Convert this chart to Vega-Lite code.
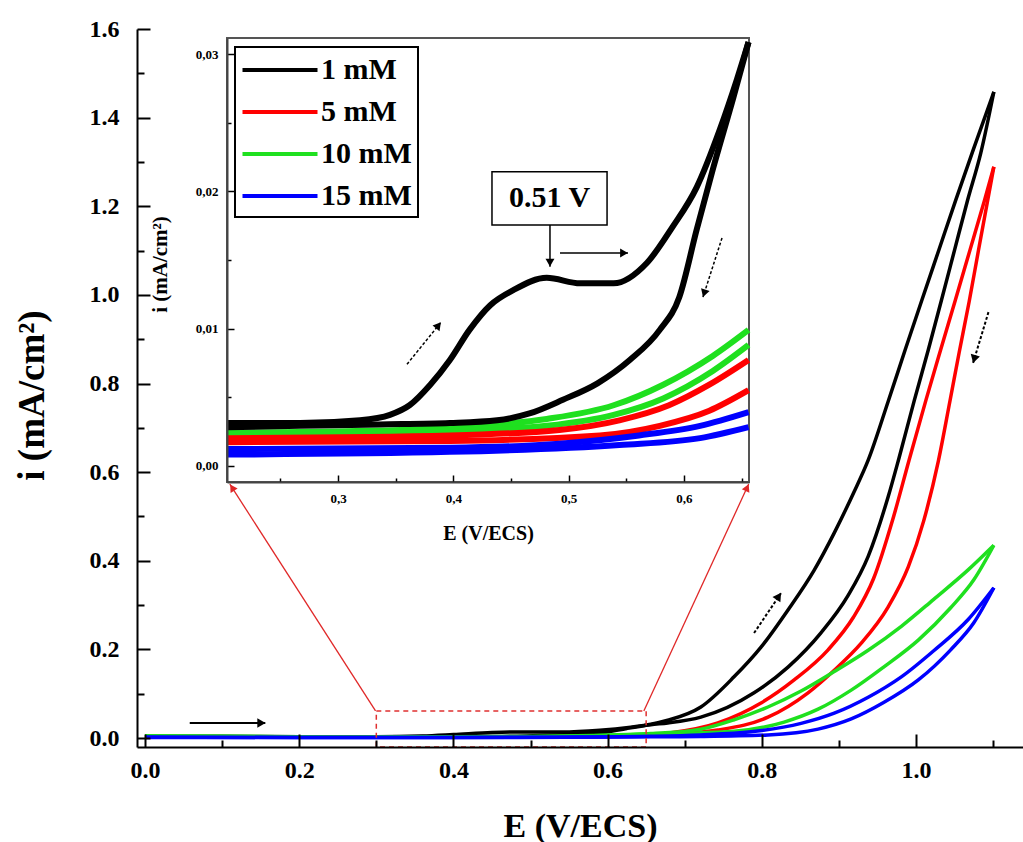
{
  "$schema": "https://vega.github.io/schema/vega-lite/v6.json",
  "width": 886,
  "height": 718,
  "autosize": {"type": "none"},
  "padding": {"left": 137, "top": 29, "right": 0, "bottom": 95},
  "background": "white",
  "config": {
    "view": {"stroke": null},
    "font": "Liberation Serif",
    "style": {
      "guide-label": {"font": "Liberation Serif", "fontWeight": "bold"},
      "guide-title": {"font": "Liberation Serif", "fontWeight": "bold"}
    },
    "axis": {"grid": false, "labelFont": "Liberation Serif", "titleFont": "Liberation Serif", "labelFontWeight": "bold", "titleFontWeight": "bold", "labelColor": "black", "titleColor": "black", "tickColor": "black", "domainColor": "black"},
    "legend": {"strokeWidth": 2, "labelFont": "Liberation Serif", "labelFontWeight": "bold"}
  },
  "datasets": {
    "main": [
      {"E": 0, "i": 0.004, "c": "1 mM", "b": "f"},
      {"E": 0.1, "i": 0.004, "c": "1 mM", "b": "f"},
      {"E": 0.2, "i": 0.003, "c": "1 mM", "b": "f"},
      {"E": 0.3, "i": 0.003, "c": "1 mM", "b": "f"},
      {"E": 0.36, "i": 0.0044, "c": "1 mM", "b": "f"},
      {"E": 0.4, "i": 0.0077, "c": "1 mM", "b": "f"},
      {"E": 0.45, "i": 0.0125, "c": "1 mM", "b": "f"},
      {"E": 0.48, "i": 0.0137, "c": "1 mM", "b": "f"},
      {"E": 0.54, "i": 0.0133, "c": "1 mM", "b": "f"},
      {"E": 0.59, "i": 0.0174, "c": "1 mM", "b": "f"},
      {"E": 0.63, "i": 0.0245, "c": "1 mM", "b": "f"},
      {"E": 0.656, "i": 0.031, "c": "1 mM", "b": "f"},
      {"E": 0.678, "i": 0.04, "c": "1 mM", "b": "f"},
      {"E": 0.721, "i": 0.07, "c": "1 mM", "b": "f"},
      {"E": 0.764, "i": 0.138, "c": "1 mM", "b": "f"},
      {"E": 0.799, "i": 0.205, "c": "1 mM", "b": "f"},
      {"E": 0.834, "i": 0.289, "c": "1 mM", "b": "f"},
      {"E": 0.868, "i": 0.379, "c": "1 mM", "b": "f"},
      {"E": 0.894, "i": 0.463, "c": "1 mM", "b": "f"},
      {"E": 0.919, "i": 0.553, "c": "1 mM", "b": "f"},
      {"E": 0.938, "i": 0.627, "c": "1 mM", "b": "f"},
      {"E": 0.964, "i": 0.76, "c": "1 mM", "b": "f"},
      {"E": 0.986, "i": 0.876, "c": "1 mM", "b": "f"},
      {"E": 1.008, "i": 0.99, "c": "1 mM", "b": "f"},
      {"E": 1.03, "i": 1.103, "c": "1 mM", "b": "f"},
      {"E": 1.052, "i": 1.216, "c": "1 mM", "b": "f"},
      {"E": 1.074, "i": 1.326, "c": "1 mM", "b": "f"},
      {"E": 1.101, "i": 1.458, "c": "1 mM", "b": "f"},
      {"E": 1.101, "i": 1.458, "c": "1 mM", "b": "r"},
      {"E": 1.084, "i": 1.32, "c": "1 mM", "b": "r"},
      {"E": 1.067, "i": 1.214, "c": "1 mM", "b": "r"},
      {"E": 1.05, "i": 1.101, "c": "1 mM", "b": "r"},
      {"E": 1.033, "i": 0.988, "c": "1 mM", "b": "r"},
      {"E": 1.016, "i": 0.876, "c": "1 mM", "b": "r"},
      {"E": 0.998, "i": 0.763, "c": "1 mM", "b": "r"},
      {"E": 0.978, "i": 0.632, "c": "1 mM", "b": "r"},
      {"E": 0.964, "i": 0.545, "c": "1 mM", "b": "r"},
      {"E": 0.938, "i": 0.41, "c": "1 mM", "b": "r"},
      {"E": 0.912, "i": 0.322, "c": "1 mM", "b": "r"},
      {"E": 0.877, "i": 0.238, "c": "1 mM", "b": "r"},
      {"E": 0.834, "i": 0.16, "c": "1 mM", "b": "r"},
      {"E": 0.79, "i": 0.102, "c": "1 mM", "b": "r"},
      {"E": 0.721, "i": 0.047, "c": "1 mM", "b": "r"},
      {"E": 0.678, "i": 0.034, "c": "1 mM", "b": "r"},
      {"E": 0.656, "i": 0.03, "c": "1 mM", "b": "r"},
      {"E": 0.625, "i": 0.0216, "c": "1 mM", "b": "r"},
      {"E": 0.596, "i": 0.0123, "c": "1 mM", "b": "r"},
      {"E": 0.553, "i": 0.0077, "c": "1 mM", "b": "r"},
      {"E": 0.495, "i": 0.0048, "c": "1 mM", "b": "r"},
      {"E": 0.438, "i": 0.0033, "c": "1 mM", "b": "r"},
      {"E": 0.3, "i": 0.0029, "c": "1 mM", "b": "r"},
      {"E": 0.1, "i": 0.003, "c": "1 mM", "b": "r"},
      {"E": 0, "i": 0.003, "c": "1 mM", "b": "r"},

      {"E": 0, "i": 0.003, "c": "5 mM", "b": "f"},
      {"E": 0.2, "i": 0.002, "c": "5 mM", "b": "f"},
      {"E": 0.397, "i": 0.0022, "c": "5 mM", "b": "f"},
      {"E": 0.492, "i": 0.0026, "c": "5 mM", "b": "f"},
      {"E": 0.544, "i": 0.0033, "c": "5 mM", "b": "f"},
      {"E": 0.587, "i": 0.0044, "c": "5 mM", "b": "f"},
      {"E": 0.622, "i": 0.0059, "c": "5 mM", "b": "f"},
      {"E": 0.656, "i": 0.0077, "c": "5 mM", "b": "f"},
      {"E": 0.678, "i": 0.011, "c": "5 mM", "b": "f"},
      {"E": 0.743, "i": 0.034, "c": "5 mM", "b": "f"},
      {"E": 0.799, "i": 0.079, "c": "5 mM", "b": "f"},
      {"E": 0.842, "i": 0.131, "c": "5 mM", "b": "f"},
      {"E": 0.886, "i": 0.199, "c": "5 mM", "b": "f"},
      {"E": 0.919, "i": 0.273, "c": "5 mM", "b": "f"},
      {"E": 0.945, "i": 0.36, "c": "5 mM", "b": "f"},
      {"E": 0.971, "i": 0.5, "c": "5 mM", "b": "f"},
      {"E": 0.991, "i": 0.627, "c": "5 mM", "b": "f"},
      {"E": 1.013, "i": 0.763, "c": "5 mM", "b": "f"},
      {"E": 1.032, "i": 0.876, "c": "5 mM", "b": "f"},
      {"E": 1.051, "i": 0.988, "c": "5 mM", "b": "f"},
      {"E": 1.07, "i": 1.101, "c": "5 mM", "b": "f"},
      {"E": 1.089, "i": 1.214, "c": "5 mM", "b": "f"},
      {"E": 1.101, "i": 1.289, "c": "5 mM", "b": "f"},
      {"E": 1.101, "i": 1.289, "c": "5 mM", "b": "r"},
      {"E": 1.081, "i": 1.1, "c": "5 mM", "b": "r"},
      {"E": 1.069, "i": 0.985, "c": "5 mM", "b": "r"},
      {"E": 1.056, "i": 0.87, "c": "5 mM", "b": "r"},
      {"E": 1.044, "i": 0.76, "c": "5 mM", "b": "r"},
      {"E": 1.029, "i": 0.625, "c": "5 mM", "b": "r"},
      {"E": 1.01, "i": 0.49, "c": "5 mM", "b": "r"},
      {"E": 0.99, "i": 0.386, "c": "5 mM", "b": "r"},
      {"E": 0.964, "i": 0.296, "c": "5 mM", "b": "r"},
      {"E": 0.929, "i": 0.214, "c": "5 mM", "b": "r"},
      {"E": 0.894, "i": 0.153, "c": "5 mM", "b": "r"},
      {"E": 0.86, "i": 0.102, "c": "5 mM", "b": "r"},
      {"E": 0.808, "i": 0.047, "c": "5 mM", "b": "r"},
      {"E": 0.743, "i": 0.018, "c": "5 mM", "b": "r"},
      {"E": 0.7, "i": 0.01, "c": "5 mM", "b": "r"},
      {"E": 0.656, "i": 0.0055, "c": "5 mM", "b": "r"},
      {"E": 0.579, "i": 0.0029, "c": "5 mM", "b": "r"},
      {"E": 0.397, "i": 0.0018, "c": "5 mM", "b": "r"},
      {"E": 0, "i": 0.002, "c": "5 mM", "b": "r"},

      {"E": 0, "i": 0.005, "c": "10 mM", "b": "f"},
      {"E": 0.2, "i": 0.0025, "c": "10 mM", "b": "f"},
      {"E": 0.354, "i": 0.0026, "c": "10 mM", "b": "f"},
      {"E": 0.481, "i": 0.0034, "c": "10 mM", "b": "f"},
      {"E": 0.539, "i": 0.0044, "c": "10 mM", "b": "f"},
      {"E": 0.582, "i": 0.0059, "c": "10 mM", "b": "f"},
      {"E": 0.625, "i": 0.008, "c": "10 mM", "b": "f"},
      {"E": 0.656, "i": 0.0099, "c": "10 mM", "b": "f"},
      {"E": 0.721, "i": 0.02, "c": "10 mM", "b": "f"},
      {"E": 0.764, "i": 0.041, "c": "10 mM", "b": "f"},
      {"E": 0.808, "i": 0.07, "c": "10 mM", "b": "f"},
      {"E": 0.851, "i": 0.106, "c": "10 mM", "b": "f"},
      {"E": 0.894, "i": 0.15, "c": "10 mM", "b": "f"},
      {"E": 0.938, "i": 0.198, "c": "10 mM", "b": "f"},
      {"E": 0.981, "i": 0.252, "c": "10 mM", "b": "f"},
      {"E": 1.023, "i": 0.313, "c": "10 mM", "b": "f"},
      {"E": 1.068, "i": 0.38, "c": "10 mM", "b": "f"},
      {"E": 1.101, "i": 0.435, "c": "10 mM", "b": "f"},
      {"E": 1.101, "i": 0.435, "c": "10 mM", "b": "r"},
      {"E": 1.075, "i": 0.357, "c": "10 mM", "b": "r"},
      {"E": 1.045, "i": 0.294, "c": "10 mM", "b": "r"},
      {"E": 1.003, "i": 0.221, "c": "10 mM", "b": "r"},
      {"E": 0.958, "i": 0.16, "c": "10 mM", "b": "r"},
      {"E": 0.916, "i": 0.108, "c": "10 mM", "b": "r"},
      {"E": 0.873, "i": 0.065, "c": "10 mM", "b": "r"},
      {"E": 0.829, "i": 0.036, "c": "10 mM", "b": "r"},
      {"E": 0.764, "i": 0.015, "c": "10 mM", "b": "r"},
      {"E": 0.7, "i": 0.0105, "c": "10 mM", "b": "r"},
      {"E": 0.656, "i": 0.0088, "c": "10 mM", "b": "r"},
      {"E": 0.582, "i": 0.0049, "c": "10 mM", "b": "r"},
      {"E": 0.481, "i": 0.0029, "c": "10 mM", "b": "r"},
      {"E": 0.354, "i": 0.0023, "c": "10 mM", "b": "r"},
      {"E": 0, "i": 0.004, "c": "10 mM", "b": "r"},

      {"E": 0, "i": 0.002, "c": "15 mM", "b": "f"},
      {"E": 0.2, "i": 0.0012, "c": "15 mM", "b": "f"},
      {"E": 0.397, "i": 0.0013, "c": "15 mM", "b": "f"},
      {"E": 0.492, "i": 0.0016, "c": "15 mM", "b": "f"},
      {"E": 0.561, "i": 0.0022, "c": "15 mM", "b": "f"},
      {"E": 0.656, "i": 0.0039, "c": "15 mM", "b": "f"},
      {"E": 0.72, "i": 0.007, "c": "15 mM", "b": "f"},
      {"E": 0.786, "i": 0.014, "c": "15 mM", "b": "f"},
      {"E": 0.851, "i": 0.033, "c": "15 mM", "b": "f"},
      {"E": 0.894, "i": 0.056, "c": "15 mM", "b": "f"},
      {"E": 0.938, "i": 0.092, "c": "15 mM", "b": "f"},
      {"E": 0.981, "i": 0.138, "c": "15 mM", "b": "f"},
      {"E": 1.023, "i": 0.197, "c": "15 mM", "b": "f"},
      {"E": 1.068, "i": 0.268, "c": "15 mM", "b": "f"},
      {"E": 1.101, "i": 0.339, "c": "15 mM", "b": "f"},
      {"E": 1.101, "i": 0.339, "c": "15 mM", "b": "r"},
      {"E": 1.075, "i": 0.26, "c": "15 mM", "b": "r"},
      {"E": 1.045, "i": 0.199, "c": "15 mM", "b": "r"},
      {"E": 1.003, "i": 0.131, "c": "15 mM", "b": "r"},
      {"E": 0.958, "i": 0.08, "c": "15 mM", "b": "r"},
      {"E": 0.916, "i": 0.043, "c": "15 mM", "b": "r"},
      {"E": 0.873, "i": 0.02, "c": "15 mM", "b": "r"},
      {"E": 0.808, "i": 0.007, "c": "15 mM", "b": "r"},
      {"E": 0.72, "i": 0.0035, "c": "15 mM", "b": "r"},
      {"E": 0.656, "i": 0.0028, "c": "15 mM", "b": "r"},
      {"E": 0.544, "i": 0.0015, "c": "15 mM", "b": "r"},
      {"E": 0.397, "i": 0.001, "c": "15 mM", "b": "r"},
      {"E": 0, "i": 0.001, "c": "15 mM", "b": "r"}
    ],
    "inset": [
      {"E": 0.2037, "i": 0.0021, "c": "10 mM", "b": "r"},
      {"E": 0.354, "i": 0.0023, "c": "10 mM", "b": "r"},
      {"E": 0.423, "i": 0.0026, "c": "10 mM", "b": "r"},
      {"E": 0.481, "i": 0.0029, "c": "10 mM", "b": "r"},
      {"E": 0.539, "i": 0.0037, "c": "10 mM", "b": "r"},
      {"E": 0.582, "i": 0.0049, "c": "10 mM", "b": "r"},
      {"E": 0.625, "i": 0.0069, "c": "10 mM", "b": "r"},
      {"E": 0.656, "i": 0.0088, "c": "10 mM", "b": "r"},
      {"E": 0.2037, "i": 0.0024, "c": "10 mM", "b": "f"},
      {"E": 0.354, "i": 0.0026, "c": "10 mM", "b": "f"},
      {"E": 0.423, "i": 0.0029, "c": "10 mM", "b": "f"},
      {"E": 0.481, "i": 0.0034, "c": "10 mM", "b": "f"},
      {"E": 0.539, "i": 0.0044, "c": "10 mM", "b": "f"},
      {"E": 0.582, "i": 0.0059, "c": "10 mM", "b": "f"},
      {"E": 0.625, "i": 0.008, "c": "10 mM", "b": "f"},
      {"E": 0.656, "i": 0.0099, "c": "10 mM", "b": "f"},

      {"E": 0.2037, "i": 0.002, "c": "5 mM", "b": "f"},
      {"E": 0.397, "i": 0.0022, "c": "5 mM", "b": "f"},
      {"E": 0.492, "i": 0.0026, "c": "5 mM", "b": "f"},
      {"E": 0.544, "i": 0.0033, "c": "5 mM", "b": "f"},
      {"E": 0.587, "i": 0.0044, "c": "5 mM", "b": "f"},
      {"E": 0.622, "i": 0.0059, "c": "5 mM", "b": "f"},
      {"E": 0.656, "i": 0.0077, "c": "5 mM", "b": "f"},
      {"E": 0.2037, "i": 0.0017, "c": "5 mM", "b": "r"},
      {"E": 0.397, "i": 0.0018, "c": "5 mM", "b": "r"},
      {"E": 0.527, "i": 0.0022, "c": "5 mM", "b": "r"},
      {"E": 0.579, "i": 0.0029, "c": "5 mM", "b": "r"},
      {"E": 0.622, "i": 0.004, "c": "5 mM", "b": "r"},
      {"E": 0.656, "i": 0.0055, "c": "5 mM", "b": "r"},

      {"E": 0.2037, "i": 0.0012, "c": "15 mM", "b": "f"},
      {"E": 0.397, "i": 0.0013, "c": "15 mM", "b": "f"},
      {"E": 0.492, "i": 0.0016, "c": "15 mM", "b": "f"},
      {"E": 0.561, "i": 0.0022, "c": "15 mM", "b": "f"},
      {"E": 0.614, "i": 0.0029, "c": "15 mM", "b": "f"},
      {"E": 0.656, "i": 0.0039, "c": "15 mM", "b": "f"},
      {"E": 0.2037, "i": 0.0008, "c": "15 mM", "b": "r"},
      {"E": 0.397, "i": 0.001, "c": "15 mM", "b": "r"},
      {"E": 0.544, "i": 0.0015, "c": "15 mM", "b": "r"},
      {"E": 0.614, "i": 0.002, "c": "15 mM", "b": "r"},
      {"E": 0.656, "i": 0.0028, "c": "15 mM", "b": "r"},

      {"E": 0.2037, "i": 0.0031, "c": "1 mM", "b": "f"},
      {"E": 0.267, "i": 0.0031, "c": "1 mM", "b": "f"},
      {"E": 0.319, "i": 0.0033, "c": "1 mM", "b": "f"},
      {"E": 0.345, "i": 0.0037, "c": "1 mM", "b": "f"},
      {"E": 0.362, "i": 0.0044, "c": "1 mM", "b": "f"},
      {"E": 0.38, "i": 0.0059, "c": "1 mM", "b": "f"},
      {"E": 0.397, "i": 0.0077, "c": "1 mM", "b": "f"},
      {"E": 0.414, "i": 0.0099, "c": "1 mM", "b": "f"},
      {"E": 0.432, "i": 0.0117, "c": "1 mM", "b": "f"},
      {"E": 0.452, "i": 0.0128, "c": "1 mM", "b": "f"},
      {"E": 0.481, "i": 0.0137, "c": "1 mM", "b": "f"},
      {"E": 0.51, "i": 0.0133, "c": "1 mM", "b": "f"},
      {"E": 0.539, "i": 0.0133, "c": "1 mM", "b": "f"},
      {"E": 0.568, "i": 0.0148, "c": "1 mM", "b": "f"},
      {"E": 0.59, "i": 0.0174, "c": "1 mM", "b": "f"},
      {"E": 0.611, "i": 0.0203, "c": "1 mM", "b": "f"},
      {"E": 0.631, "i": 0.0245, "c": "1 mM", "b": "f"},
      {"E": 0.646, "i": 0.0282, "c": "1 mM", "b": "f"},
      {"E": 0.656, "i": 0.0309, "c": "1 mM", "b": "f"},
      {"E": 0.656, "i": 0.0309, "c": "1 mM", "b": "r"},
      {"E": 0.643, "i": 0.0269, "c": "1 mM", "b": "r"},
      {"E": 0.625, "i": 0.0216, "c": "1 mM", "b": "r"},
      {"E": 0.611, "i": 0.0172, "c": "1 mM", "b": "r"},
      {"E": 0.596, "i": 0.0123, "c": "1 mM", "b": "r"},
      {"E": 0.579, "i": 0.0099, "c": "1 mM", "b": "r"},
      {"E": 0.553, "i": 0.0077, "c": "1 mM", "b": "r"},
      {"E": 0.525, "i": 0.006, "c": "1 mM", "b": "r"},
      {"E": 0.495, "i": 0.0048, "c": "1 mM", "b": "r"},
      {"E": 0.466, "i": 0.0038, "c": "1 mM", "b": "r"},
      {"E": 0.438, "i": 0.0033, "c": "1 mM", "b": "r"},
      {"E": 0.397, "i": 0.0031, "c": "1 mM", "b": "r"},
      {"E": 0.336, "i": 0.003, "c": "1 mM", "b": "r"},
      {"E": 0.267, "i": 0.0029, "c": "1 mM", "b": "r"},
      {"E": 0.2037, "i": 0.0028, "c": "1 mM", "b": "r"}
    ],
    "topEdge": [{"i": 1.6}],
    "zoomBox": [{"E": 0.3, "E2": 0.65, "i": -0.0203, "i2": 0.061}],
    "links": [
      {"E": 0.299, "i": 0.061, "E2": 0.11, "i2": 0.573},
      {"E": 0.647, "i": 0.061, "E2": 0.783, "i2": 0.573}
    ],
    "linkHeads": [
      {"E": 0.113, "i": 0.565, "dir": 327},
      {"E": 0.781, "i": 0.565, "dir": 25}
    ],
    "mainArrows": [
      {"E": 0.058, "i": 0.034, "E2": 0.156, "i2": 0.034, "k": "solid"},
      {"E": 0.79, "i": 0.237, "E2": 0.825, "i2": 0.327, "k": "dashed"},
      {"E": 1.094, "i": 0.961, "E2": 1.074, "i2": 0.846, "k": "dashed"}
    ],
    "mainHeads": [
      {"E": 0.151, "i": 0.034, "dir": 90},
      {"E": 0.822, "i": 0.32, "dir": 34},
      {"E": 1.0755, "i": 0.855, "dir": 196}
    ],
    "insetFrame": [{"E": 0.2037, "E2": 0.6564, "i": -0.0012, "i2": 0.0312}],
    "insetArrows": [
      {"E": 0.3598, "i": 0.00739, "E2": 0.3893, "i2": 0.01046, "k": "dashed"},
      {"E": 0.4925, "i": 0.01551, "E2": 0.5515, "i2": 0.01551, "k": "solid"},
      {"E": 0.633, "i": 0.01661, "E2": 0.6165, "i2": 0.01229, "k": "dashed"},
      {"E": 0.4838, "i": 0.01756, "E2": 0.4838, "i2": 0.0145, "k": "solid"}
    ],
    "insetHeads": [
      {"E": 0.3871, "i": 0.01023, "dir": 39},
      {"E": 0.548, "i": 0.01551, "dir": 90},
      {"E": 0.6175, "i": 0.01257, "dir": 198},
      {"E": 0.4838, "i": 0.0148, "dir": 180}
    ],
    "labelBox": [{"E": 0.4335, "E2": 0.5333, "i": 0.01756, "i2": 0.02144}],
    "labelText": [{"E": 0.4834, "i": 0.0195, "t": "0.51 V"}]
  },
  "layer": [
    {
      "encoding": {
        "x": {
          "field": "E", "type": "quantitative",
          "scale": {"domain": [-0.0104, 1.1388], "nice": false, "zero": false},
          "axis": {
            "orient": "bottom",
            "values": [0, 0.1, 0.2, 0.3, 0.4, 0.5, 0.6, 0.7, 0.8, 0.9, 1.0, 1.1],
            "tickSize": {"condition": {"test": "round(datum.value*10)%2==0", "value": -13}, "value": -7},
            "tickWidth": 2,
            "domainWidth": 2,
            "labelExpr": "round(datum.value*10)%2==0 ? format(datum.value,'.1f') : ''",
            "labelFont": "Liberation Serif",
            "labelFontWeight": "bold",
            "labelFontSize": 24,
            "labelPadding": 24,
            "title": "E (V/ECS)",
            "titleFont": "Liberation Serif",
            "titleFontWeight": "bold",
            "titleFontSize": 34,
            "titleY": 89,
            "titleBaseline": "alphabetic",
            "zindex": 1
          }
        },
        "y": {
          "field": "i", "type": "quantitative",
          "scale": {"domain": [-0.0203, 1.6], "nice": false, "zero": false},
          "axis": {
            "orient": "left",
            "values": [0, 0.1, 0.2, 0.3, 0.4, 0.5, 0.6, 0.7, 0.8, 0.9, 1.0, 1.1, 1.2, 1.3, 1.4, 1.5, 1.6],
            "tickSize": {"condition": {"test": "round(datum.value*10)%2==0", "value": -13}, "value": -7},
            "tickWidth": 2,
            "domainWidth": 2,
            "labelExpr": "round(datum.value*10)%2==0 ? format(datum.value,'.1f') : ''",
            "labelFont": "Liberation Serif",
            "labelFontWeight": "bold",
            "labelFontSize": 24,
            "labelPadding": 31,
            "title": "i (mA/cm²)",
            "titleFont": "Liberation Serif",
            "titleFontWeight": "bold",
            "titleFontSize": 37,
            "titleX": -94,
            "titleY": 366,
            "titleAngle": -90,
            "titleAlign": "center",
            "titleBaseline": "alphabetic",
            "zindex": 1
          }
        }
      },
      "layer": [
        {
          "data": {"name": "topEdge"},
          "mark": {"type": "rule", "color": "black", "strokeWidth": 2},
          "encoding": {}
        },
        {
          "data": {"name": "main"},
          "mark": {"type": "line", "strokeWidth": 3.5, "interpolate": "monotone"},
          "encoding": {
            "color": {
              "field": "c", "type": "nominal",
              "scale": {"domain": ["1 mM", "5 mM", "10 mM", "15 mM"], "range": ["#000000", "#ff0000", "#1fe01f", "#0000ff"]},
              "legend": {"orient": "none", "legendX": 98, "legendY": 18, "title": null, "symbolType": "M-2.5,0H2.5", "symbolSize": 900, "symbolStrokeWidth": 4, "symbolOffset": 22, "labelFont": "Liberation Serif", "labelFontSize": 30, "labelFontWeight": "bold", "labelColor": "black", "strokeColor": "black", "fillColor": "white", "padding": 6, "rowPadding": 10, "labelOffset": 24, "labelLimit": 400, "zindex": 1}
            },
            "detail": {"field": "b"}
          }
        },
        {
          "data": {"name": "zoomBox"},
          "mark": {"type": "rect", "filled": false, "stroke": "#e03030", "strokeWidth": 1.5, "strokeDash": [5, 4]},
          "encoding": {"x2": {"field": "E2"}, "y2": {"field": "i2"}}
        },
        {
          "data": {"name": "links"},
          "mark": {"type": "rule", "color": "#e02828", "strokeWidth": 1.3},
          "encoding": {"x2": {"field": "E2"}, "y2": {"field": "i2"}}
        },
        {
          "data": {"name": "linkHeads"},
          "mark": {"type": "point", "shape": "triangle-up", "filled": true, "color": "#e02828", "size": 70, "opacity": 1},
          "encoding": {"angle": {"field": "dir", "type": "quantitative", "scale": null}}
        },
        {
          "data": {"name": "mainArrows"},
          "mark": {"type": "rule", "color": "black", "strokeWidth": 2},
          "encoding": {
            "x2": {"field": "E2"}, "y2": {"field": "i2"},
            "strokeDash": {"field": "k", "type": "nominal", "scale": {"domain": ["solid", "dashed"], "range": [[1, 0], [3, 2]]}, "legend": null}
          }
        },
        {
          "data": {"name": "mainHeads"},
          "mark": {"type": "point", "shape": "triangle-up", "filled": true, "color": "black", "size": 90, "opacity": 1},
          "encoding": {"angle": {"field": "dir", "type": "quantitative", "scale": null}}
        }
      ]
    },
    {
      "encoding": {
        "x": {
          "field": "E", "type": "quantitative",
          "scale": {"domain": [0.2037, 0.6564], "range": [90, 612], "nice": false, "zero": false},
          "axis": {
            "orient": "bottom",
            "offset": -265,
            "values": [0.25, 0.3, 0.35, 0.4, 0.45, 0.5, 0.55, 0.6, 0.65],
            "tickSize": {"condition": {"test": "round(datum.value*100)%10==0", "value": -7}, "value": -4},
            "tickWidth": 1.5,
            "domainWidth": 2,
            "domainColor": "#444444",
            "labelExpr": "round(datum.value*100)%10==0 ? replace(format(datum.value,'.1f'),'.',',') : ''",
            "labelFont": "Liberation Serif",
            "labelFontWeight": "bold",
            "labelFontSize": 13,
            "labelPadding": 17,
            "title": "E (V/ECS)",
            "titleFont": "Liberation Serif",
            "titleFontWeight": "bold",
            "titleFontSize": 20,
            "titleY": 57,
            "titleBaseline": "alphabetic",
            "zindex": 1
          }
        },
        "y": {
          "field": "i", "type": "quantitative",
          "scale": {"domain": [-0.0012, 0.0312], "range": [453, 9], "nice": false, "zero": false},
          "axis": {
            "orient": "left",
            "offset": -90,
            "values": [0, 0.005, 0.01, 0.015, 0.02, 0.025, 0.03],
            "tickSize": {"condition": {"test": "round(datum.value*1000)%10==0", "value": -7}, "value": -4},
            "tickWidth": 1.5,
            "domainWidth": 2,
            "domainColor": "#444444",
            "labelExpr": "round(datum.value*1000)%10==0 ? replace(format(datum.value,'.2f'),'.',',') : ''",
            "labelFont": "Liberation Serif",
            "labelFontWeight": "bold",
            "labelFontSize": 13,
            "labelPadding": 16,
            "title": "i (mA/cm²)",
            "titleFont": "Liberation Serif",
            "titleFontWeight": "bold",
            "titleFontSize": 21,
            "titleX": -61,
            "titleY": 235,
            "titleAngle": -90,
            "titleAlign": "center",
            "titleBaseline": "alphabetic",
            "zindex": 1
          }
        }
      },
      "layer": [
        {
          "data": {"name": "insetFrame"},
          "mark": {"type": "rect", "fill": "white", "stroke": "#555555", "strokeWidth": 2},
          "encoding": {"x2": {"field": "E2"}, "y2": {"field": "i2"}}
        },
        {
          "data": {"name": "inset"},
          "mark": {"type": "line", "strokeWidth": 6, "interpolate": "monotone"},
          "encoding": {
            "color": {
              "field": "c", "type": "nominal",
              "scale": {"domain": ["1 mM", "5 mM", "10 mM", "15 mM"], "range": ["#000000", "#ff0000", "#1fe01f", "#0000ff"]},
              "legend": {"orient": "none", "legendX": 98, "legendY": 18, "title": null, "symbolType": "M-2.5,0H2.5", "symbolSize": 900, "symbolStrokeWidth": 4, "symbolOffset": 22, "labelFont": "Liberation Serif", "labelFontSize": 30, "labelFontWeight": "bold", "labelColor": "black", "strokeColor": "black", "fillColor": "white", "padding": 6, "rowPadding": 10, "labelOffset": 24, "labelLimit": 400, "zindex": 1}
            },
            "detail": {"field": "b"}
          }
        },
        {
          "data": {"name": "insetArrows"},
          "mark": {"type": "rule", "color": "black", "strokeWidth": 1.5},
          "encoding": {
            "x2": {"field": "E2"}, "y2": {"field": "i2"},
            "strokeDash": {"field": "k", "type": "nominal", "scale": {"domain": ["solid", "dashed"], "range": [[1, 0], [3, 2]]}, "legend": null}
          }
        },
        {
          "data": {"name": "insetHeads"},
          "mark": {"type": "point", "shape": "triangle-up", "filled": true, "color": "black", "size": 80, "opacity": 1},
          "encoding": {"angle": {"field": "dir", "type": "quantitative", "scale": null}}
        },
        {
          "data": {"name": "labelBox"},
          "mark": {"type": "rect", "fill": "white", "stroke": "black", "strokeWidth": 1.5},
          "encoding": {"x2": {"field": "E2"}, "y2": {"field": "i2"}}
        },
        {
          "data": {"name": "labelText"},
          "mark": {"type": "text", "font": "Liberation Serif", "fontWeight": "bold", "fontSize": 30, "color": "black", "baseline": "middle", "align": "center"},
          "encoding": {"text": {"field": "t"}}
        }
      ]
    }
  ],
  "resolve": {"scale": {"x": "independent", "y": "independent"}}
}
